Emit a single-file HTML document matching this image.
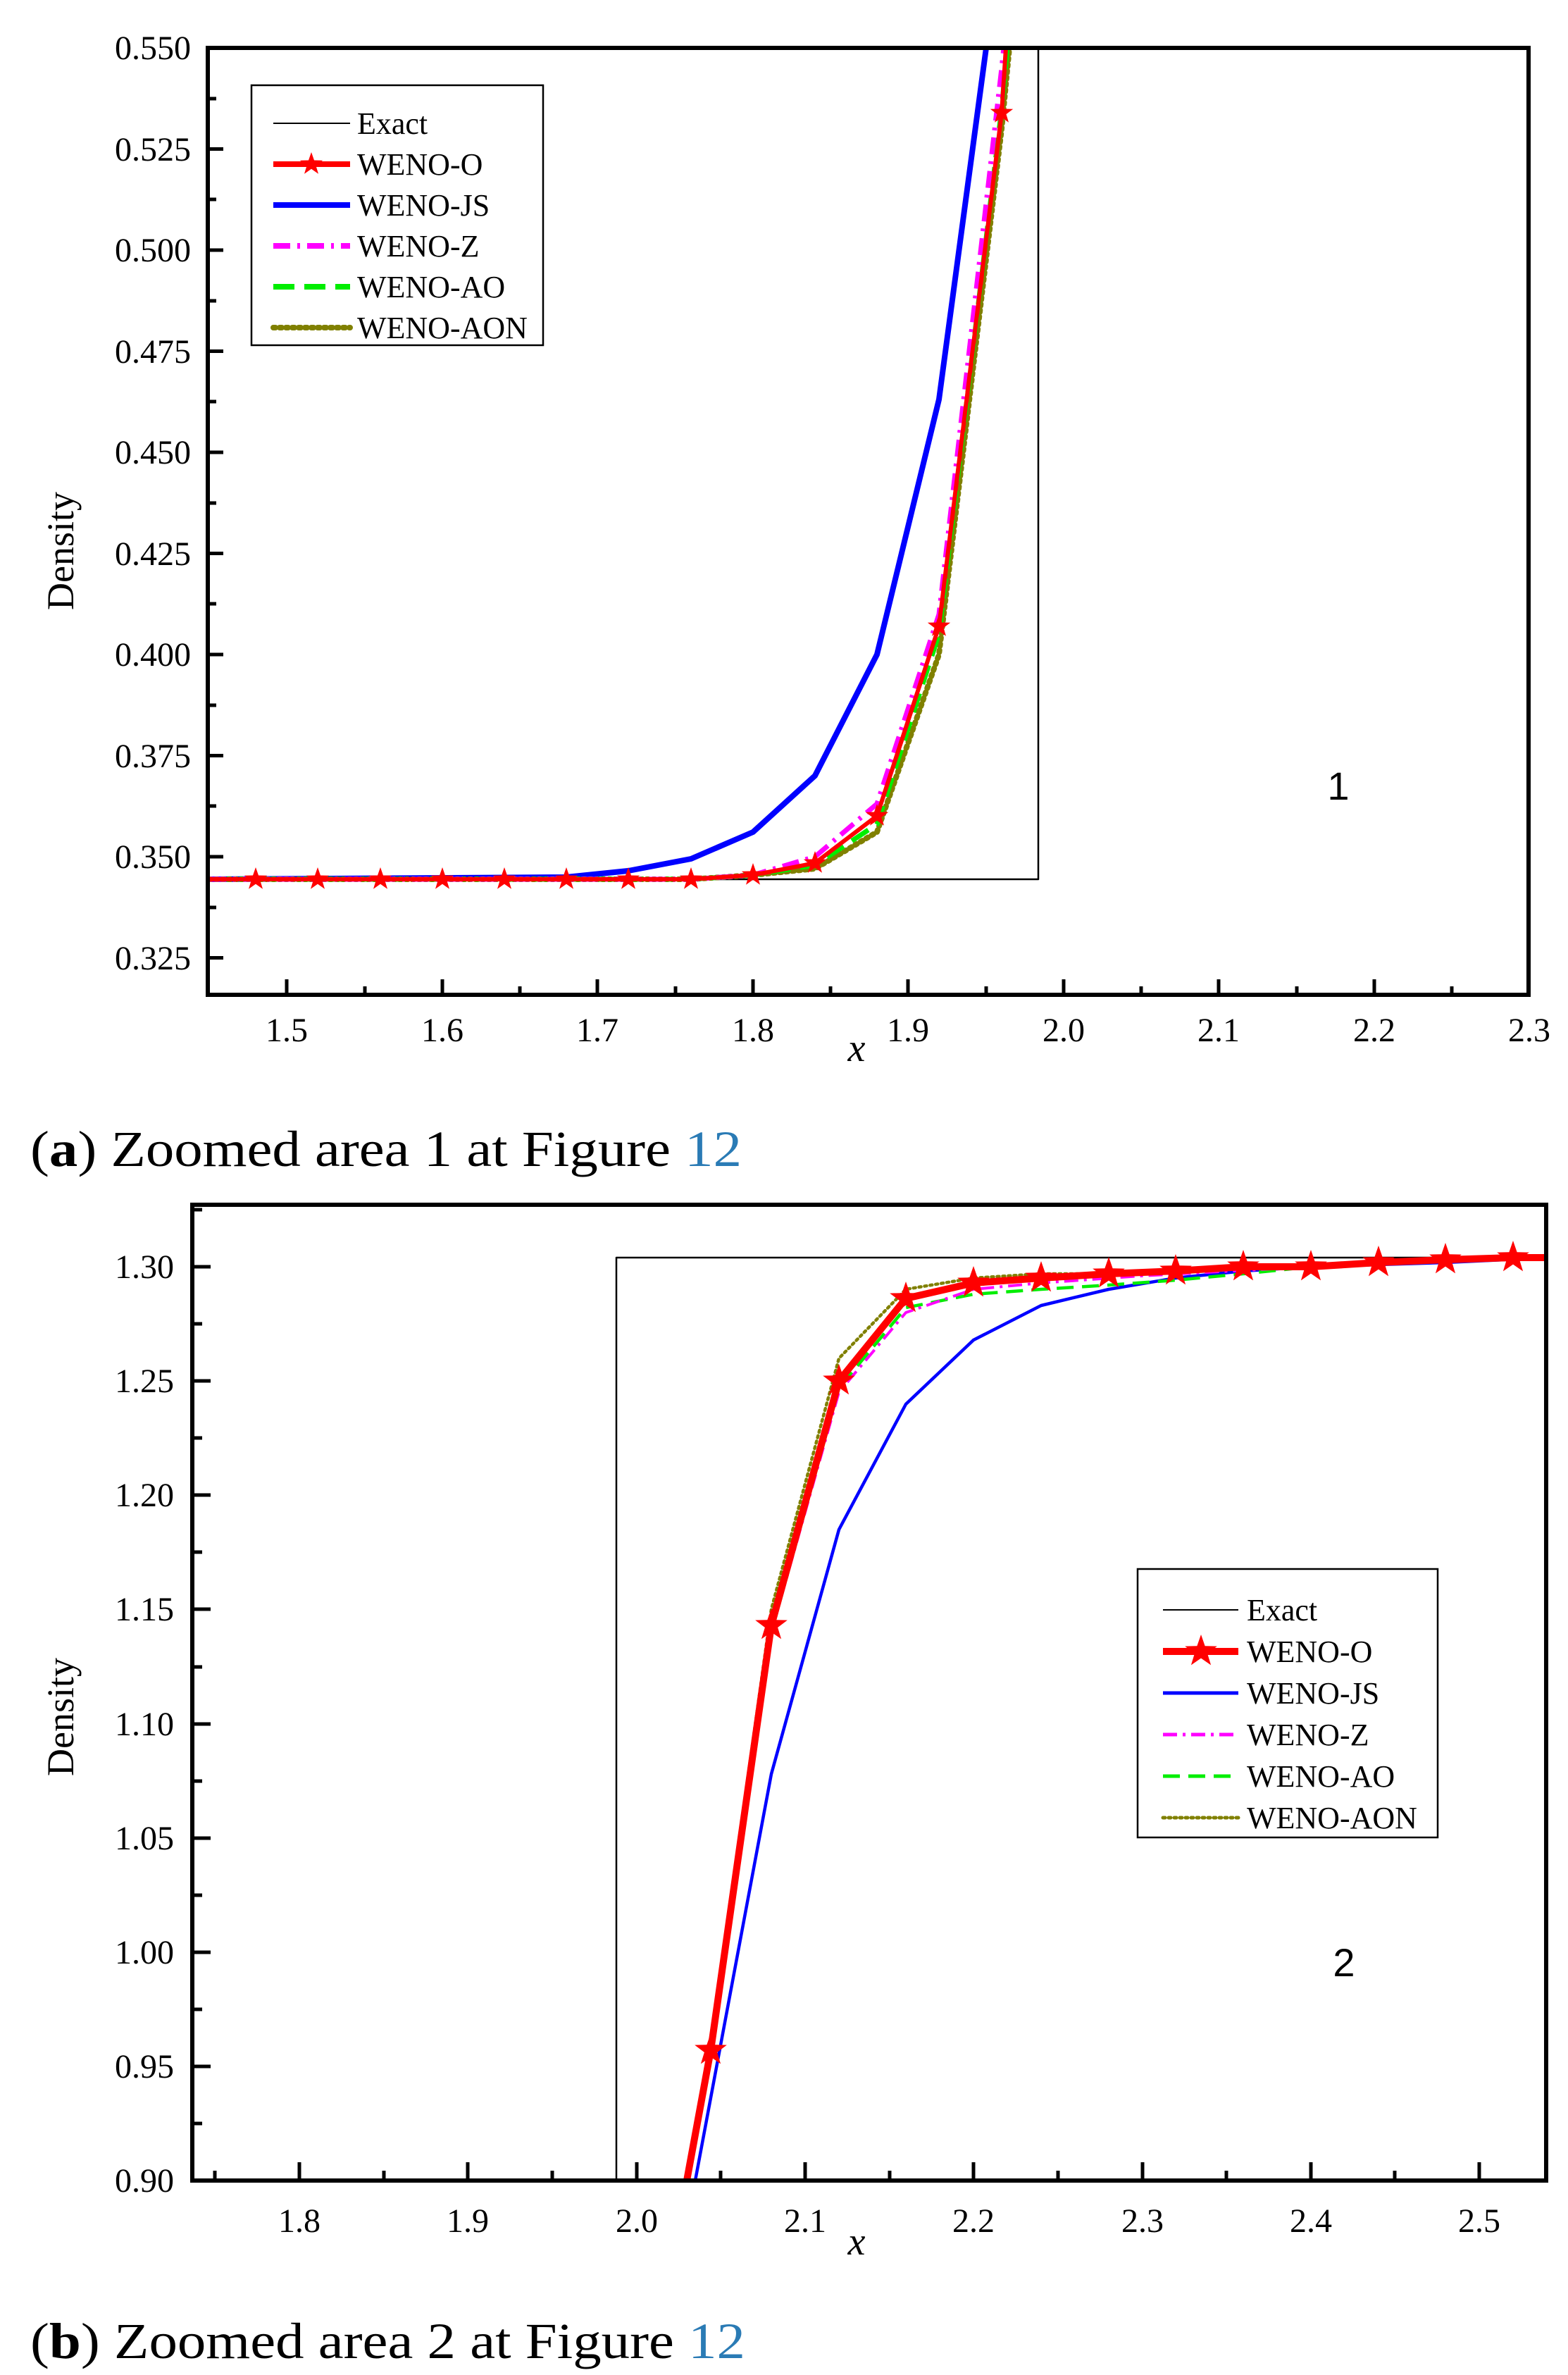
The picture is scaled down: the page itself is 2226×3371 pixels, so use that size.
<!DOCTYPE html>
<html><head><meta charset="utf-8"><style>
html,body{margin:0;padding:0;background:#fff}
svg{display:block}
text{font-family:"Liberation Serif",serif;fill:#000}
</style></head><body>
<svg width="2226" height="3371" viewBox="0 0 2226 3371" xmlns="http://www.w3.org/2000/svg">
<defs>
<path id="st" d="M0,-1 L.235,-.324 L.951,-.309 L.38,.124 L.588,.809 L0,.4 L-.588,.809 L-.38,.124 L-.951,-.309 L-.235,-.324Z"/>
</defs>

<!-- ================= PLOT 1 ================= -->
<g fill="none" stroke-linejoin="round">
<!-- exact -->
<polyline points="297,1248 1474,1248 1474,68" stroke="#000" stroke-width="2.5"/>
<!-- JS -->
<polyline points="297,1248 804,1245 892,1236 981,1219 1069,1181 1157,1101 1245,929 1333,567 1400,68" stroke="#0000ff" stroke-width="8"/>
<!-- AON -->
<polyline points="297,1248 981,1248 1069,1242 1157,1233 1245,1181 1333,929 1422,183 1433,68" stroke="#808000" stroke-width="8" stroke-dasharray="3,6" stroke-linecap="round"/>
<!-- AO -->
<polyline points="297,1248 981,1248 1069,1242 1157,1228 1245,1170 1333,900 1422,154 1430,68" stroke="#00ee00" stroke-width="7" stroke-dasharray="28,14"/>
<!-- Z -->
<polyline points="297,1248 981,1248 1069,1242 1157,1216 1245,1141 1333,872 1422,97 1425,68" stroke="#ff00ff" stroke-width="7" stroke-dasharray="24,10,4,10"/>
<!-- O -->
<polyline points="297,1248 981,1248 1069,1242 1157,1225 1245,1158 1333,889 1422,160 1428,68" stroke="#ff0000" stroke-width="6"/>
</g>
<g fill="#ff0000">
<use href="#st" transform="translate(363,1248) scale(17)"/>
<use href="#st" transform="translate(451,1248) scale(17)"/>
<use href="#st" transform="translate(540,1248) scale(17)"/>
<use href="#st" transform="translate(628,1248) scale(17)"/>
<use href="#st" transform="translate(716,1248) scale(17)"/>
<use href="#st" transform="translate(804,1248) scale(17)"/>
<use href="#st" transform="translate(892,1248) scale(17)"/>
<use href="#st" transform="translate(981,1248) scale(17)"/>
<use href="#st" transform="translate(1069,1242) scale(17)"/>
<use href="#st" transform="translate(1157,1225) scale(17)"/>
<use href="#st" transform="translate(1245,1158) scale(17)"/>
<use href="#st" transform="translate(1333,889) scale(17)"/>
<use href="#st" transform="translate(1422,160) scale(17)"/>
</g>
<!-- axes box -->
<rect x="295" y="68" width="1875" height="1344" fill="none" stroke="#000" stroke-width="6"/>
<g stroke="#000" stroke-width="5">
<path d="M295,68h22M295,211.5h22M295,355h22M295,498.5h22M295,642h22M295,785.5h22M295,929h22M295,1072.5h22M295,1216h22M295,1359.5h22"/>
<path d="M295,140h12M295,283h12M295,427h12M295,570h12M295,714h12M295,857h12M295,1001h12M295,1144h12M295,1288h12"/>
<path d="M407,1412v-22M628,1412v-22M848,1412v-22M1069,1412v-22M1289,1412v-22M1510,1412v-22M1730,1412v-22M1951,1412v-22"/>
<path d="M518,1412v-12M738,1412v-12M959,1412v-12M1179,1412v-12M1400,1412v-12M1620,1412v-12M1841,1412v-12M2061,1412v-12"/>
</g>
<g font-size="48" text-anchor="end">
<text x="271" y="84">0.550</text>
<text x="271" y="228">0.525</text>
<text x="271" y="371">0.500</text>
<text x="271" y="515">0.475</text>
<text x="271" y="658">0.450</text>
<text x="271" y="802">0.425</text>
<text x="271" y="945">0.400</text>
<text x="271" y="1089">0.375</text>
<text x="271" y="1232">0.350</text>
<text x="271" y="1376">0.325</text>
</g>
<g font-size="48" text-anchor="middle">
<text x="407" y="1478">1.5</text>
<text x="628" y="1478">1.6</text>
<text x="848" y="1478">1.7</text>
<text x="1069" y="1478">1.8</text>
<text x="1289" y="1478">1.9</text>
<text x="1510" y="1478">2.0</text>
<text x="1730" y="1478">2.1</text>
<text x="1951" y="1478">2.2</text>
<text x="2171" y="1478">2.3</text>
</g>
<text x="1216" y="1506" font-size="56" font-style="italic" text-anchor="middle">x</text>
<text transform="translate(104,782) rotate(-90)" font-size="54" text-anchor="middle">Density</text>
<text x="1900" y="1135" font-size="56" font-family="Liberation Sans, sans-serif" text-anchor="middle" style="font-family:'Liberation Sans',sans-serif">1</text>
<!-- legend 1 -->
<rect x="357" y="121" width="414" height="369" fill="#fff" stroke="#000" stroke-width="2.5"/>
<g fill="none">
<line x1="388" y1="175" x2="497" y2="175" stroke="#000" stroke-width="2"/>
<line x1="388" y1="233" x2="497" y2="233" stroke="#ff0000" stroke-width="8"/>
<line x1="388" y1="291" x2="497" y2="291" stroke="#0000ff" stroke-width="8"/>
<line x1="388" y1="349" x2="497" y2="349" stroke="#ff00ff" stroke-width="8" stroke-dasharray="24,10,4,10"/>
<line x1="388" y1="407" x2="497" y2="407" stroke="#00ee00" stroke-width="8" stroke-dasharray="30,14"/>
<line x1="388" y1="465" x2="497" y2="465" stroke="#808000" stroke-width="8" stroke-dasharray="3,6" stroke-linecap="round"/>
</g>
<use href="#st" transform="translate(442,233) scale(17)" fill="#ff0000"/>
<g font-size="44">
<text x="507" y="190">Exact</text>
<text x="507" y="248">WENO-O</text>
<text x="507" y="306">WENO-JS</text>
<text x="507" y="364">WENO-Z</text>
<text x="507" y="422">WENO-AO</text>
<text x="507" y="480">WENO-AON</text>
</g>
<text x="43" y="1655" font-size="72" textLength="1010" lengthAdjust="spacingAndGlyphs">(<tspan font-weight="bold">a</tspan>) Zoomed area 1 at Figure <tspan fill="#2a7bb5" style="fill:#2a7bb5">12</tspan></text>

<!-- ================= PLOT 2 ================= -->
<svg x="273" y="1710" width="1922" height="1385" viewBox="273 1710 1922 1385" overflow="hidden">
<g fill="none" stroke-linejoin="round">
<polyline points="875,3095 875,1785 2200,1785" stroke="#000" stroke-width="2.5"/>
<polyline points="987,3095 1095,2518 1191,2171 1286,1993 1382,1902 1478,1853 1574,1830 1669,1814 1765,1804 1861,1798 2052,1792 2200,1785" stroke="#0000ff" stroke-width="4.5"/>
<polyline points="975,3095 1009,2901 1095,2284 1191,1928 1286,1830 1382,1814 1478,1808 1574,1808 1669,1804 1861,1795 2200,1785" stroke="#808000" stroke-width="4.5" stroke-dasharray="3,5" stroke-linecap="round"/>
<polyline points="975,3095 1009,2901 1095,2317 1191,1970 1286,1856 1382,1837 1478,1830 1574,1824 1669,1817 1765,1808 1861,1798 2200,1785" stroke="#00ee00" stroke-width="4.5" stroke-dasharray="24,12"/>
<polyline points="975,3095 1009,2901 1095,2317 1191,1976 1286,1863 1382,1830 1478,1821 1620,1811 1861,1798 2200,1785" stroke="#ff00ff" stroke-width="4" stroke-dasharray="20,8,4,8"/>
<polyline points="975,3095 1009,2910 1095,2307 1191,1960 1286,1843 1382,1821 1478,1814 1574,1808 1669,1804 1765,1798 1861,1798 1957,1792 2052,1788 2148,1785 2200,1785" stroke="#ff0000" stroke-width="10"/>
</g>
<g fill="#ff0000">
<use href="#st" transform="translate(1009,2910) scale(24)"/>
<use href="#st" transform="translate(1095,2307) scale(24)"/>
<use href="#st" transform="translate(1191,1960) scale(24)"/>
<use href="#st" transform="translate(1286,1843) scale(24)"/>
<use href="#st" transform="translate(1382,1821) scale(24)"/>
<use href="#st" transform="translate(1478,1814) scale(24)"/>
<use href="#st" transform="translate(1574,1808) scale(24)"/>
<use href="#st" transform="translate(1669,1804) scale(24)"/>
<use href="#st" transform="translate(1765,1798) scale(24)"/>
<use href="#st" transform="translate(1861,1798) scale(24)"/>
<use href="#st" transform="translate(1957,1792) scale(24)"/>
<use href="#st" transform="translate(2052,1788) scale(24)"/>
<use href="#st" transform="translate(2148,1785) scale(24)"/>
</g>
</svg>
<rect x="273" y="1710" width="1922" height="1385" fill="none" stroke="#000" stroke-width="6"/>
<g stroke="#000" stroke-width="5">
<path d="M273,1798h26M273,1960h26M273,2122h26M273,2284h26M273,2447h26M273,2609h26M273,2771h26M273,2933h26"/>
<path d="M273,1717h14M273,1879h14M273,2041h14M273,2203h14M273,2366h14M273,2528h14M273,2690h14M273,2852h14M273,3014h14"/>
<path d="M425,3095v-26M664,3095v-26M904,3095v-26M1143,3095v-26M1382,3095v-26M1622,3095v-26M1861,3095v-26M2100,3095v-26"/>
<path d="M305,3095v-14M545,3095v-14M784,3095v-14M1023,3095v-14M1263,3095v-14M1502,3095v-14M1741,3095v-14M1980,3095v-14"/>
</g>
<g font-size="48" text-anchor="end">
<text x="247" y="1814">1.30</text>
<text x="247" y="1976">1.25</text>
<text x="247" y="2138">1.20</text>
<text x="247" y="2300">1.15</text>
<text x="247" y="2463">1.10</text>
<text x="247" y="2625">1.05</text>
<text x="247" y="2787">1.00</text>
<text x="247" y="2949">0.95</text>
<text x="247" y="3111">0.90</text>
</g>
<g font-size="48" text-anchor="middle">
<text x="425" y="3168">1.8</text>
<text x="664" y="3168">1.9</text>
<text x="904" y="3168">2.0</text>
<text x="1143" y="3168">2.1</text>
<text x="1382" y="3168">2.2</text>
<text x="1622" y="3168">2.3</text>
<text x="1861" y="3168">2.4</text>
<text x="2100" y="3168">2.5</text>
</g>
<text x="1216" y="3200" font-size="56" font-style="italic" text-anchor="middle">x</text>
<text transform="translate(104,2437) rotate(-90)" font-size="54" text-anchor="middle">Density</text>
<text x="1908" y="2805" font-size="56" text-anchor="middle" style="font-family:'Liberation Sans',sans-serif">2</text>
<!-- legend 2 -->
<rect x="1615" y="2227" width="426" height="381" fill="#fff" stroke="#000" stroke-width="2.5"/>
<g fill="none">
<line x1="1651" y1="2285" x2="1758" y2="2285" stroke="#000" stroke-width="2"/>
<line x1="1651" y1="2344" x2="1758" y2="2344" stroke="#ff0000" stroke-width="10"/>
<line x1="1651" y1="2403" x2="1758" y2="2403" stroke="#0000ff" stroke-width="5"/>
<line x1="1651" y1="2462" x2="1758" y2="2462" stroke="#ff00ff" stroke-width="5" stroke-dasharray="20,8,4,8"/>
<line x1="1651" y1="2521" x2="1758" y2="2521" stroke="#00ee00" stroke-width="5" stroke-dasharray="24,12"/>
<line x1="1651" y1="2580" x2="1758" y2="2580" stroke="#808000" stroke-width="5" stroke-dasharray="3,5" stroke-linecap="round"/>
</g>
<use href="#st" transform="translate(1705,2344) scale(24)" fill="#ff0000"/>
<g font-size="44">
<text x="1770" y="2300">Exact</text>
<text x="1770" y="2359">WENO-O</text>
<text x="1770" y="2418">WENO-JS</text>
<text x="1770" y="2477">WENO-Z</text>
<text x="1770" y="2536">WENO-AO</text>
<text x="1770" y="2595">WENO-AON</text>
</g>
<text x="43" y="3347" font-size="72" textLength="1015" lengthAdjust="spacingAndGlyphs">(<tspan font-weight="bold">b</tspan>) Zoomed area 2 at Figure <tspan fill="#2a7bb5" style="fill:#2a7bb5">12</tspan></text>
</svg>
</body></html>
